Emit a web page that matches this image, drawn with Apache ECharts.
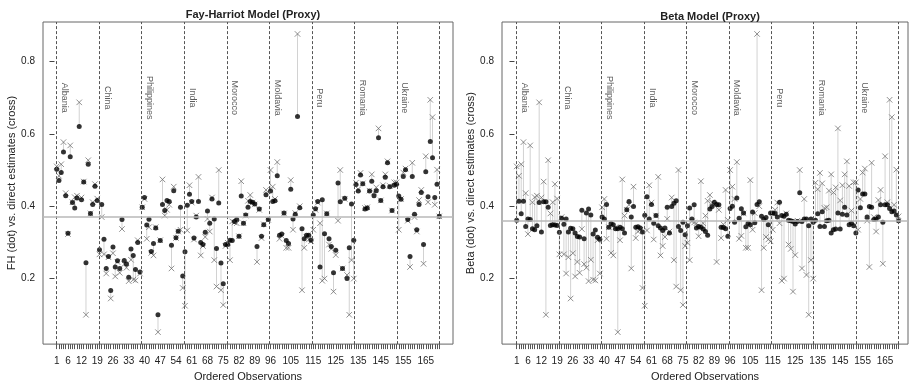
<!DOCTYPE html>
<html>
<head>
<meta charset="utf-8">
<script src="https://cdn.jsdelivr.net/npm/echarts@6/dist/echarts.min.js"></script>
<style>
  html, body { margin: 0; padding: 0; background: #fff; }
  #chart { width: 911px; height: 387px; }
</style>
</head>
<body>
<div id="chart"></div>
<script>
// countries, 19 ordered observations each
const countries = ['Albania', 'China', 'Philippines', 'India', 'Morocco', 'Moldavia', 'Peru', 'Romania', 'Ukraine'];
const boundaries = [1, 19.89, 38.78, 57.67, 76.56, 95.44, 114.33, 133.22, 152.11, 171];
const xTickLabels = [1, 6, 12, 19, 26, 33, 40, 47, 54, 61, 68, 75, 82, 89, 96, 105, 115, 125, 135, 145, 155, 165];
const yTicks = [0.2, 0.4, 0.6, 0.8];
const fhMean = 0.372;
const betaMean = 0.365;

// direct estimates (cross), same in both panels
const directEst = [
  0.51, 0.484, 0.516, 0.577, 0.436, 0.323, 0.568, 0.411, 0.425, 0.429, 0.687, 0.424, 0.468, 0.1, 0.527, 0.38, 0.411, 0.461, 0.421,
  0.267, 0.37, 0.267, 0.214, 0.259, 0.145, 0.27, 0.206, 0.246, 0.216, 0.337, 0.24, 0.23, 0.193, 0.252, 0.197, 0.195, 0.306, 0.214,
  0.397, 0.42, 0.31, 0.342, 0.271, 0.264, 0.342, 0.052, 0.306, 0.474, 0.374, 0.39, 0.404, 0.228, 0.454, 0.312, 0.33, 0.335, 0.174,
  0.125, 0.333, 0.458, 0.41, 0.308, 0.374, 0.481, 0.264, 0.29, 0.315, 0.365, 0.33, 0.424, 0.251, 0.178, 0.5, 0.168, 0.127, 0.29,
  0.299, 0.251, 0.358, 0.355, 0.353, 0.317, 0.469, 0.353, 0.374, 0.415, 0.431, 0.41, 0.405, 0.246, 0.39, 0.312, 0.35, 0.445, 0.362,
  0.5, 0.454, 0.42, 0.522, 0.31, 0.318, 0.38, 0.285, 0.285, 0.472, 0.335, 0.381, 0.876, 0.40, 0.168, 0.285, 0.315, 0.308, 0.303,
  0.335, 0.39, 0.41, 0.353, 0.194, 0.2, 0.38, 0.294, 0.282, 0.164, 0.265, 0.36, 0.5, 0.228, 0.42, 0.21, 0.1, 0.251, 0.2,
  0.465, 0.447, 0.492, 0.463, 0.395, 0.397, 0.443, 0.488, 0.438, 0.452, 0.615, 0.416, 0.458, 0.488, 0.524, 0.456, 0.388, 0.466, 0.466,
  0.335, 0.42, 0.493, 0.504, 0.36, 0.232, 0.52, 0.37, 0.33, 0.417, 0.445, 0.241, 0.538, 0.411, 0.694, 0.646, 0.404, 0.501, 0.372
];

// Fay-Harriot estimates (dot)
const fhEst = [
  0.502, 0.471, 0.493, 0.55, 0.429, 0.325, 0.537, 0.41, 0.395, 0.423, 0.62, 0.418, 0.467, 0.244, 0.516, 0.38, 0.405, 0.455, 0.416,
  0.28, 0.405, 0.309, 0.228, 0.261, 0.167, 0.287, 0.232, 0.249, 0.228, 0.363, 0.25, 0.24, 0.204, 0.282, 0.264, 0.225, 0.3, 0.218,
  0.397, 0.424, 0.348, 0.364, 0.275, 0.297, 0.34, 0.1, 0.305, 0.405, 0.388, 0.416, 0.413, 0.292, 0.443, 0.313, 0.331, 0.397, 0.207,
  0.274, 0.403, 0.433, 0.413, 0.312, 0.37, 0.413, 0.3, 0.294, 0.328, 0.387, 0.353, 0.42, 0.365, 0.283, 0.409, 0.243, 0.186, 0.294,
  0.294, 0.306, 0.305, 0.358, 0.363, 0.317, 0.428, 0.353, 0.376, 0.397, 0.413, 0.411, 0.406, 0.289, 0.392, 0.317, 0.349, 0.432, 0.363,
  0.442, 0.413, 0.415, 0.484, 0.32, 0.323, 0.381, 0.305, 0.297, 0.447, 0.365, 0.378, 0.648, 0.396, 0.338, 0.31, 0.32, 0.32, 0.306,
  0.376, 0.393, 0.413, 0.232, 0.418, 0.324, 0.379, 0.31, 0.289, 0.216, 0.278, 0.464, 0.412, 0.228, 0.422, 0.2, 0.285, 0.406, 0.306,
  0.46, 0.442, 0.486, 0.462, 0.392, 0.395, 0.442, 0.469, 0.429, 0.443, 0.589, 0.416, 0.454, 0.48, 0.52, 0.454, 0.388, 0.458, 0.461,
  0.428, 0.419, 0.482, 0.501, 0.363, 0.261, 0.482, 0.378, 0.335, 0.405, 0.438, 0.294, 0.495, 0.426, 0.579, 0.534, 0.424, 0.461, 0.372
];

// Beta model estimates (dot)
const betaEst = [
  0.361, 0.414, 0.379, 0.414, 0.344, 0.365, 0.363, 0.338, 0.335, 0.346, 0.41, 0.329, 0.412, 0.412, 0.397, 0.347, 0.349, 0.348, 0.347,
  0.328, 0.367, 0.35, 0.365, 0.329, 0.339, 0.338, 0.326, 0.316, 0.315, 0.389, 0.31, 0.381, 0.392, 0.376, 0.323, 0.334, 0.314, 0.309,
  0.37, 0.365, 0.405, 0.342, 0.352, 0.349, 0.338, 0.338, 0.342, 0.338, 0.326, 0.39, 0.413, 0.37, 0.399, 0.342, 0.343, 0.34, 0.329,
  0.375, 0.426, 0.365, 0.405, 0.353, 0.374, 0.346, 0.34, 0.333, 0.34, 0.397, 0.326, 0.399, 0.408, 0.415, 0.344, 0.333, 0.356, 0.321,
  0.346, 0.395, 0.365, 0.404, 0.34, 0.344, 0.342, 0.337, 0.33, 0.32, 0.392, 0.399, 0.411, 0.405, 0.404, 0.342, 0.341, 0.338, 0.317,
  0.394, 0.40, 0.356, 0.423, 0.367, 0.393, 0.381, 0.343, 0.353, 0.349, 0.384, 0.354, 0.405, 0.412, 0.372, 0.363, 0.369, 0.349, 0.381,
  0.381, 0.38, 0.37, 0.411, 0.374, 0.372, 0.378, 0.361, 0.36, 0.358, 0.351, 0.358, 0.437, 0.358, 0.365, 0.365, 0.346, 0.365, 0.356,
  0.361, 0.379, 0.344, 0.385, 0.344, 0.36, 0.361, 0.326, 0.335, 0.337, 0.381, 0.337, 0.378, 0.397, 0.376, 0.349, 0.353, 0.346, 0.326,
  0.445, 0.396, 0.434, 0.434, 0.37, 0.399, 0.397, 0.363, 0.365, 0.37, 0.404, 0.356, 0.404, 0.404, 0.394, 0.385, 0.387, 0.376, 0.36
];

const FONT = 'Liberation Sans, Arial, Helvetica, sans-serif';
const obsTicks = directEst.map((_, i) => i + 1);

const chart = echarts.init(document.getElementById('chart'));

function xAxisFor(gi, min, max) {
  return {
    type: 'value', gridIndex: gi, min: min, max: max,
    axisLine: { show: false },
    splitLine: { show: false },
    axisTick: { show: true, customValues: obsTicks, length: 5, lineStyle: { color: '#555', width: 1 } },
    axisLabel: { customValues: xTickLabels, fontSize: 10, color: '#222', margin: 12, fontFamily: FONT },
    name: 'Ordered Observations', nameLocation: 'middle', nameGap: 26,
    nameTextStyle: { fontSize: 11, color: '#222', fontFamily: FONT }
  };
}

function yAxisFor(gi, name) {
  return {
    type: 'value', gridIndex: gi, min: 0.019, max: 0.909,
    axisLine: { show: false },
    splitLine: { show: false },
    axisTick: { show: true, customValues: yTicks, length: 5, lineStyle: { color: '#444' } },
    axisLabel: { customValues: yTicks, formatter: v => v.toFixed(1), fontSize: 10, color: '#222', margin: 8, fontFamily: FONT },
    name: name, nameLocation: 'middle', nameGap: 26,
    nameTextStyle: { fontSize: 11, color: '#222', fontFamily: FONT }
  };
}

function panelSeries(gi, est, mean) {
  return [
    {
      // dot-to-cross connectors
      type: 'custom', xAxisIndex: gi, yAxisIndex: gi, silent: true, z: 2,
      data: est.map((v, i) => [i + 1, directEst[i], v]),
      renderItem: function (params, api) {
        const a = api.coord([api.value(0), api.value(1)]);
        const b = api.coord([api.value(0), api.value(2)]);
        return { type: 'line', shape: { x1: a[0], y1: a[1], x2: b[0], y2: b[1] },
          style: { stroke: '#d2d2d2', lineWidth: 1 } };
      }
    },
    {
      // country labels + reference lines
      type: 'scatter', xAxisIndex: gi, yAxisIndex: gi, silent: true, z: 1,
      symbolSize: 0,
      data: countries.map((c, k) => [boundaries[k] + 3.6, 0.70, c]),
      label: { show: true, position: 'inside', rotate: -90, formatter: p => p.data[2],
        fontSize: 9, color: '#333', fontFamily: FONT },
      markLine: {
        silent: true, animation: false, symbol: ['none', 'none'], label: { show: false },
        lineStyle: { color: '#555', type: [3, 2], width: 1 },
        data: boundaries.map(b => ({ xAxis: b })).concat([
          { yAxis: mean, lineStyle: { color: '#b8b8b8', type: 'solid', width: 1.5 } }
        ])
      }
    },
    {
      // direct estimates
      type: 'scatter', xAxisIndex: gi, yAxisIndex: gi, silent: true, z: 3,
      symbol: 'path://M0,0L10,10M10,0L0,10', symbolSize: 5.5,
      itemStyle: { color: 'none', borderColor: '#666', borderWidth: 0.9 },
      data: directEst.map((v, i) => [i + 1, v])
    },
    {
      // model estimates
      type: 'scatter', xAxisIndex: gi, yAxisIndex: gi, silent: true, z: 4,
      symbol: 'circle', symbolSize: 5,
      itemStyle: { color: '#000' },
      data: est.map((v, i) => [i + 1, v])
    }
  ];
}

chart.setOption({
  animation: false,
  backgroundColor: '#fff',
  title: [
    { text: 'Fay-Harriot Model (Proxy)', left: 248, top: 4, textAlign: 'center',
      textStyle: { fontSize: 11, fontWeight: 'bold', color: '#222', fontFamily: FONT } },
    { text: 'Beta Model (Proxy)', left: 705, top: 6, textAlign: 'center',
      textStyle: { fontSize: 11, fontWeight: 'bold', color: '#222', fontFamily: FONT } }
  ],
  grid: [
    { left: 43, top: 22, width: 410, height: 325, show: true, borderColor: '#666', borderWidth: 1, backgroundColor: 'transparent' },
    { left: 502, top: 22, width: 406, height: 325, show: true, borderColor: '#666', borderWidth: 1, backgroundColor: 'transparent' }
  ],
  xAxis: [xAxisFor(0, -5.1, 177.1), xAxisFor(1, -5.55, 175.2)],
  yAxis: [yAxisFor(0, 'FH (dot) vs. direct estimates (cross)'), yAxisFor(1, 'Beta (dot) vs. direct estimates (cross)')],
  series: panelSeries(0, fhEst, fhMean).concat(panelSeries(1, betaEst, betaMean))
});
</script>
</body>
</html>
